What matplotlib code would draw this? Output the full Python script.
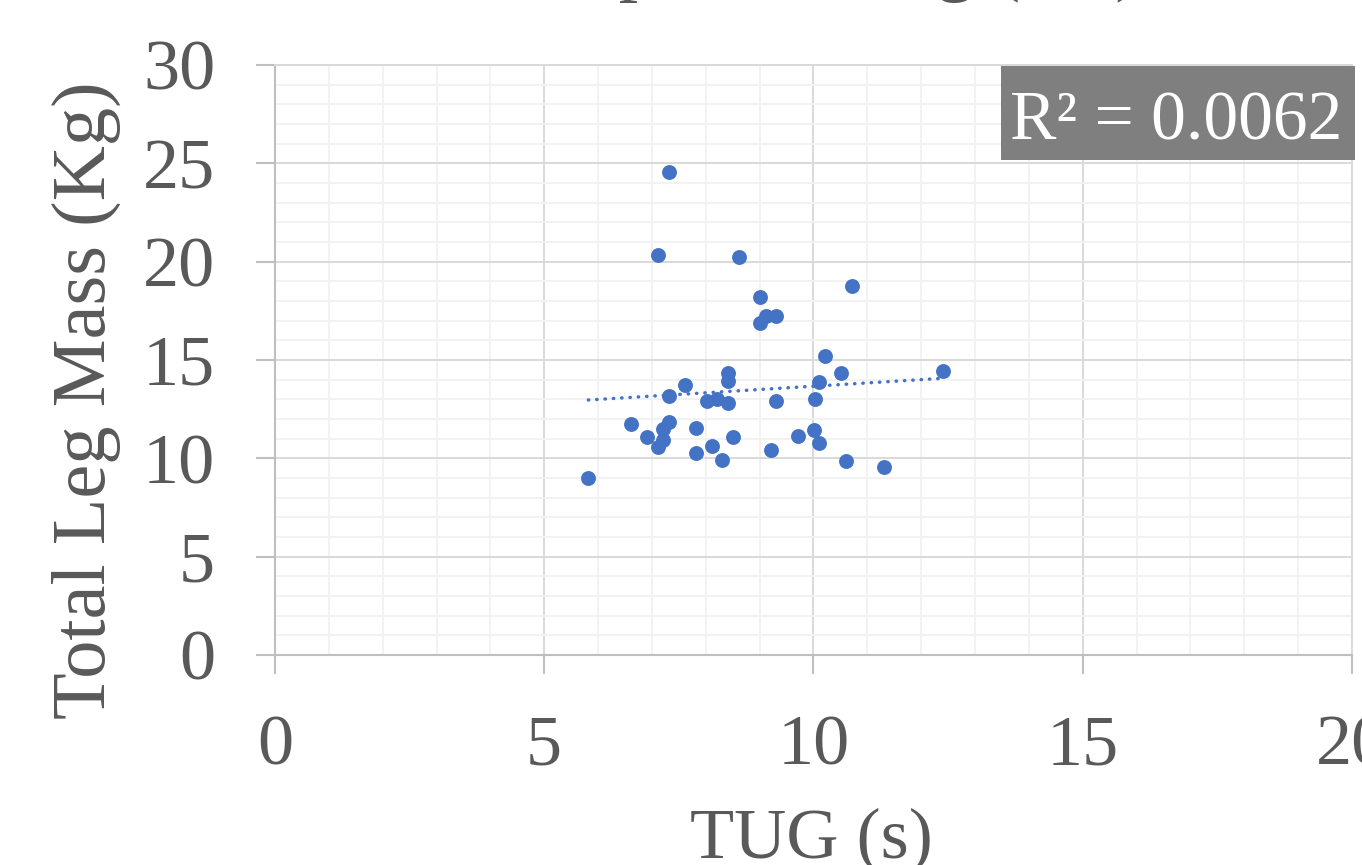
import numpy as np
import matplotlib.pyplot as plt
from matplotlib.ticker import MultipleLocator
from matplotlib.patches import Rectangle

plt.rcParams['font.family'] = ['Liberation Serif', 'DejaVu Serif']

# TUG (s) and total leg mass (kg)
tug = [7.32, 7.12, 8.62, 9.01, 10.71, 9.11, 9.31, 9.01, 10.21, 10.51,
       12.41, 8.41, 8.41, 7.62, 10.11, 7.31, 8.02, 8.21, 8.42, 9.31,
       10.02, 6.61, 7.31, 7.21, 6.91, 7.21, 7.11, 7.81, 8.51, 8.12,
       7.81, 8.31, 9.21, 9.71, 10.01, 10.11, 10.61, 11.31, 5.82]
leg_mass = [24.56, 20.32, 20.22, 18.20, 18.78, 17.23, 17.23, 16.88, 15.19, 14.35,
            14.42, 14.32, 13.95, 13.73, 13.86, 13.17, 12.90, 13.00, 12.80, 12.90,
            13.03, 11.74, 11.86, 11.47, 11.08, 10.93, 10.59, 11.54, 11.08, 10.64,
            10.25, 9.93, 10.44, 11.15, 11.44, 10.76, 9.88, 9.57, 9.01]
r2_label = 'R² = 0.0062'

blue = '#4472C4'
txt = '#595959'

fig = plt.figure(figsize=(13.62, 8.65), dpi=100)
ax = fig.add_axes([0.2019, 0.2428, 0.7907, 0.6821])

ax.set_xlim(0, 20)
ax.set_ylim(0, 30)
ax.xaxis.set_major_locator(MultipleLocator(5))
ax.yaxis.set_major_locator(MultipleLocator(5))
ax.xaxis.set_minor_locator(MultipleLocator(1))
ax.yaxis.set_minor_locator(MultipleLocator(1))
ax.grid(which='minor', color='#f2f2f2', lw=1.4, zorder=0)
ax.grid(which='major', color='#d9d9d9', lw=1.4, zorder=0)
ax.set_axisbelow(True)

for side in ['top', 'right']:
    ax.spines[side].set_color('#d9d9d9')
    ax.spines[side].set_linewidth(1.4)
for side in ['left', 'bottom']:
    ax.spines[side].set_color('#bfbfbf')
    ax.spines[side].set_linewidth(1.5)

ax.tick_params(which='major', length=14, width=1.5, color='#bfbfbf',
               labelsize=52, labelcolor=txt, pad=29)
ax.tick_params(which='minor', length=0)

ax.scatter(tug, leg_mass, s=115, color=blue, zorder=3, linewidths=0)

# linear trend line
slope, inter = np.polyfit(tug, leg_mass, 1)
xs = np.array([min(tug), max(tug)])
ax.plot(xs, slope * xs + inter, color=blue, lw=2.5,
        linestyle=(0, (0.1, 2.3)), dash_capstyle='round', zorder=2)

# R² box
fig.patches.append(Rectangle((0.735, 0.815), 0.26, 0.1087, transform=fig.transFigure,
                             facecolor='#7f7f7f', edgecolor='none', zorder=5))
fig.text(1010 / 1362, 0.8393, r2_label, color='white', fontsize=50,
         ha='left', va='baseline', zorder=6)

fig.text(86 / 1362, 0.5376, 'Total Leg Mass (Kg)', rotation=90, fontsize=55,
         color=txt, ha='center', va='center')
fig.text(811 / 1362, 7 / 865, 'TUG (s)', fontsize=52, color=txt,
         ha='center', va='baseline')
# title sits mostly above the crop, only descenders show
fig.text(800 / 1362, 1 + 14 / 865, 'Group Total Leg (cm)', fontsize=56, color=txt,
         ha='center', va='baseline')

fig.savefig('out.png', dpi=100)
